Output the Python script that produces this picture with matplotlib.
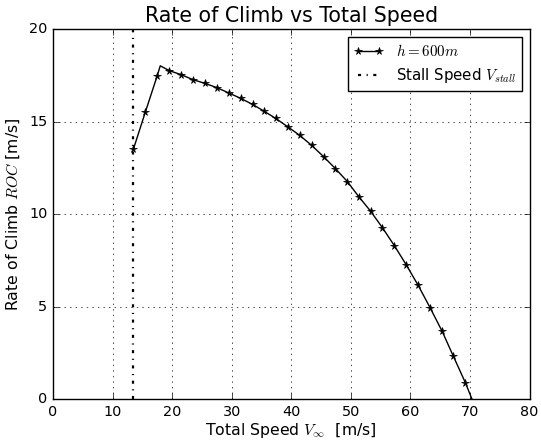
import numpy as np
import matplotlib
matplotlib.use("Agg")
import matplotlib.pyplot as plt

V = [13.5, 15.5, 17.5, 18.0, 19.5, 21.5, 23.5, 25.5, 27.5, 29.5, 31.5, 33.5,
     35.4, 37.4, 39.4, 41.4, 43.4, 45.4, 47.4, 49.4, 51.3, 53.3, 55.3, 57.3,
     59.3, 61.3, 63.3, 65.3, 67.2, 69.2, 71.2]
ROC = [13.53, 15.53, 17.50, 18.03, 17.77, 17.55, 17.28, 17.08, 16.85, 16.56,
       16.27, 15.94, 15.58, 15.18, 14.73, 14.27, 13.73, 13.12, 12.47, 11.77,
       10.96, 10.17, 9.27, 8.30, 7.26, 6.15, 4.94, 3.68, 2.32, 0.90, -0.70]
peak_idx = 3   # kink of the curve, drawn without a marker
V_stall = 13.5
h = 600

plt.style.use('classic')
plt.rcParams['lines.scale_dashes'] = False

fig = plt.figure(figsize=(5.41, 4.45), facecolor='white')
ax = fig.add_axes([0.098, 0.103, 0.881, 0.831])

marks = [i for i in range(len(V)) if i != peak_idx]
ax.plot(V, ROC, 'k-', marker='*', markersize=5.5, markevery=marks,
        label=r'$h=%dm$' % h)
ax.plot([V_stall, V_stall], [0, 20], color='k', linewidth=1.6,
        dashes=(2.2, 4.0, 0.8, 4.0), label=r'Stall Speed $V_{stall}$')

ax.set_xlim(0, 80)
ax.set_ylim(0, 20)
ax.set_xticks(np.arange(0, 81, 10))
ax.set_yticks(np.arange(0, 21, 5))
ax.tick_params(labelsize=10.4)
ax.grid(True)

ax.set_title('Rate of Climb vs Total Speed', fontsize=14.8)
ax.set_xlabel(r'Total Speed $V_\infty$  [m/s]', fontsize=11.3, labelpad=2)
ax.set_ylabel(r'Rate of Climb $ROC$ [m/s]', fontsize=11.3)
ax.legend(loc='upper right', fontsize=10.8, numpoints=2)

fig.savefig('out.png', dpi=100, facecolor='white')
